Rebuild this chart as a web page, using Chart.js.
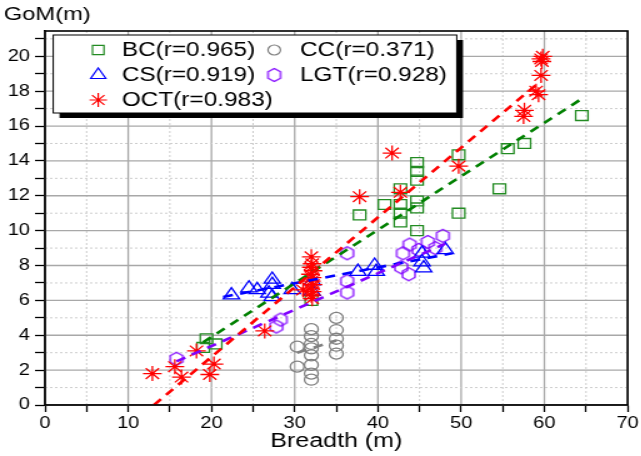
<!DOCTYPE html>
<html>
<head>
<meta charset="utf-8">
<script src="https://cdn.jsdelivr.net/npm/chart.js@4/dist/chart.umd.min.js"></script>
<style>
  html, body { margin: 0; padding: 0; background: #fff; overflow: hidden; }
  /* the reference is stretched sideways, so draw narrow and widen with css */
  #wrap { width: 513px; height: 456px; transform: scaleX(1.25); transform-origin: 0 0; }
</style>
</head>
<body>
<div id="wrap"><canvas id="c"></canvas></div>
<script>
// BC
const bcX = [19.0, 19.4, 20.5, 32.0, 37.8, 40.8, 42.7, 42.7, 42.7, 42.7, 44.7, 44.7, 44.7, 44.7, 44.7, 44.7, 49.7, 49.7, 54.6, 55.6, 57.6, 64.5];
const bcY = [3.3, 3.8, 3.5, 6.0, 10.9, 11.5, 12.4, 11.5, 11.0, 10.5, 13.9, 13.4, 12.9, 11.7, 11.3, 10.0, 14.35, 11.0, 12.4, 14.7, 15.0, 16.6];
// CC
const ccX = [30.3, 30.3, 32.0, 32.0, 32.0, 32.0, 32.0, 32.0, 32.0, 32.0, 35.0, 35.0, 35.0, 35.0, 35.0];
const ccY = [3.35, 2.2, 4.35, 3.95, 3.5, 3.25, 2.85, 2.3, 1.8, 1.45, 5.0, 4.3, 3.8, 3.4, 2.95];
// CS
const csX = [22.4, 24.5, 25.5, 26.9, 27.3, 27.3, 27.3, 29.7, 32.1, 32.1, 37.6, 39.6, 39.8, 45.3, 45.3, 45.5, 48.1];
const csY = [6.3, 6.7, 6.6, 6.4, 7.2, 6.9, 6.2, 6.6, 7.1, 6.5, 7.65, 8.0, 7.65, 8.7, 8.2, 7.85, 8.9];
// LGT
const lgtX = [15.8, 27.8, 28.3, 36.3, 36.3, 36.3, 42.8, 43.0, 43.8, 43.7, 44.9, 46.0, 46.9, 47.8];
const lgtY = [2.65, 4.5, 4.9, 8.7, 7.1, 6.45, 7.9, 8.7, 9.2, 7.5, 8.9, 9.35, 9.0, 9.7];
// OCT
const octX = [12.9, 15.6, 16.4, 18.2, 19.8, 20.3, 26.4, 31.0, 32.0, 32.1, 32.0, 32.2, 31.9, 32.1, 32.0, 32.2, 31.9, 32.1, 32.0, 32.1, 37.8, 41.7, 42.7, 49.7, 57.5, 57.6, 59.0, 59.3, 59.6, 59.7, 59.8, 59.6];
const octY = [1.8, 2.2, 1.6, 3.1, 1.75, 2.35, 4.25, 6.6, 8.5, 8.1, 7.9, 7.7, 7.5, 7.3, 7.1, 6.9, 6.7, 6.5, 6.3, 6.1, 11.95, 14.45, 12.2, 13.7, 16.55, 16.9, 18.0, 17.8, 18.9, 19.7, 20.0, 19.85];

// fitted lines, end points
const bcFitX = [19.0, 64.6], bcFitY = [3.6, 17.6];
const ccFitX = [30.3, 35.0], ccFitY = [3.0, 3.7];
const csFitX = [21.4, 48.9], csFitY = [6.2, 8.7];
const lgtFitX = [15.8, 48.1], lgtFitY = [2.5, 9.25];
const octFitX = [13.1, 59.6], octFitY = [0, 18.6];

const labels = ['BC(r=0.965)', 'CC(r=0.371)', 'CS(r=0.919)', 'LGT(r=0.928)', 'OCT(r=0.983)'];

const FONT = '"Liberation Sans", Arial, sans-serif';
const pts = (xs, ys) => xs.map((x, i) => ({ x, y: ys[i] }));

// hexagon marker (pointy top)
function hexMarker(color) {
    const c = document.createElement('canvas');
    c.width = 14; c.height = 16;
    const g = c.getContext('2d');
    g.strokeStyle = color;
    g.lineWidth = 1.3;
    g.beginPath();
    for (let i = 0; i < 6; i++) {
        const a = -Math.PI / 2 + i * Math.PI / 3;
        const px = 7 + 5 * Math.cos(a) / Math.cos(Math.PI / 6);
        const py = 8 + 6.5 * Math.sin(a);
        i ? g.lineTo(px, py) : g.moveTo(px, py);
    }
    g.closePath();
    g.stroke();
    return c;
}
const hex = hexMarker('#8000ff');

function scatterSet(label, xs, ys, color, style, r) {
    return {
        type: 'scatter', label, data: pts(xs, ys),
        pointStyle: style, pointRadius: r, pointBorderWidth: 1.3,
        borderColor: color, backgroundColor: 'rgba(0,0,0,0)',
        pointBorderColor: color, pointBackgroundColor: 'rgba(0,0,0,0)'
    };
}
function fitSet(xs, ys, color) {
    return {
        type: 'line', data: pts(xs, ys), borderColor: color, borderWidth: 2.6,
        borderDash: [8, 6], pointRadius: 0, fill: false, showLine: true
    };
}

const datasets = [
    fitSet(octFitX, octFitY, '#ff0000'),
    fitSet(bcFitX, bcFitY, '#008000'),
    fitSet(lgtFitX, lgtFitY, '#8000ff'),
    fitSet(csFitX, csFitY, '#0000ff'),
    fitSet(ccFitX, ccFitY, '#808080'),
    scatterSet(labels[4], octX, octY, '#ff0000', 'star', 7.5),
    scatterSet(labels[0], bcX, bcY, '#228b22', 'rect', 7),
    scatterSet(labels[2], csX, csY, '#0000ff', 'triangle', 7.5),
    scatterSet(labels[3], lgtX, lgtY, '#8000ff', hex, 6),
    scatterSet(labels[1], ccX, ccY, '#808080', 'circle', 5.5)
];

const decor = {
    id: 'decor',
    beforeDatasetsDraw(chart) {
        const { ctx, chartArea: a, scales: { x, y } } = chart;
        ctx.save();
        x.ticks.forEach(t => {
            const px = x.getPixelForValue(t.value);
            const major = t.value % 10 === 0;
            ctx.beginPath();
            ctx.strokeStyle = major ? '#a8a8a8' : '#cccccc';
            ctx.lineWidth = major ? 1.3 : 1;
            ctx.setLineDash(major ? [] : [2, 2]);
            ctx.moveTo(px, a.top); ctx.lineTo(px, a.bottom);
            ctx.stroke();
        });
        y.ticks.forEach(t => {
            const py = y.getPixelForValue(t.value);
            const major = t.value % 2 === 0;
            ctx.beginPath();
            ctx.strokeStyle = major ? '#a8a8a8' : '#cccccc';
            ctx.lineWidth = major ? 1.3 : 1;
            ctx.setLineDash(major ? [] : [2, 2]);
            ctx.moveTo(a.left, py); ctx.lineTo(a.right, py);
            ctx.stroke();
        });
        ctx.restore();
    },
    afterDatasetsDraw(chart) {
        const { ctx, chartArea: a } = chart;
        ctx.save();
        ctx.strokeStyle = '#000';
        ctx.lineWidth = 1.6;
        ctx.strokeRect(a.left, a.top, a.right - a.left, a.bottom - a.top);
        ctx.restore();
    },
    afterDraw(chart) {
        const ctx = chart.ctx;
        ctx.save();
        // y title on top of the axis
        ctx.font = '19px ' + FONT;
        ctx.fillStyle = '#000';
        ctx.textBaseline = 'middle';
        ctx.textAlign = 'left';
        ctx.fillText('GoM(m)', 3, 15);

        // legend box with shadow
        const bx = 42.6, by = 35, bw = 322.8, bh = 78;
        ctx.fillStyle = '#000';
        ctx.fillRect(bx + 5, by + 5, bw, bh);
        ctx.fillStyle = '#fff';
        ctx.fillRect(bx, by, bw, bh);
        ctx.strokeStyle = '#000';
        ctx.lineWidth = 1;
        ctx.strokeRect(bx, by, bw, bh);

        const cols = [[78.6, 97.4], [219.4, 240]];
        const rows = [50, 75, 100];
        const order = [labels[0], labels[2], labels[4], labels[1], labels[3]];
        order.forEach((lab, i) => {
            const ds = chart.data.datasets.find(d => d.label === lab);
            const col = cols[Math.floor(i / 3)];
            const row = rows[i % 3];
            ctx.strokeStyle = ds.pointBorderColor;
            ctx.fillStyle = 'rgba(0,0,0,0)';
            ctx.lineWidth = 1.2;
            ctx.setLineDash([]);
            Chart.helpers.drawPoint(ctx, {
                pointStyle: ds.pointStyle, radius: ds.pointRadius - 0.5,
                rotation: 0, borderWidth: 1.2
            }, col[0], row);
            ctx.fillStyle = '#000';
            ctx.font = '19.5px ' + FONT;
            ctx.textBaseline = 'middle';
            ctx.fillText(lab, col[1], row + 1);
        });
        ctx.restore();
    }
};

new Chart(document.getElementById('c'), {
    data: { datasets },
    plugins: [decor],
    options: {
        responsive: true,
        maintainAspectRatio: false,
        animation: false,
        layout: { padding: { top: 31, right: 5, left: 0, bottom: 0 } },
        plugins: { legend: { display: false }, tooltip: { enabled: false } },
        scales: {
            x: {
                type: 'linear', min: 0, max: 70,
                afterFit: s => { s.height = 51; },
                ticks: {
                    stepSize: 5, autoSkip: false, maxRotation: 0, padding: 2,
                    color: '#000', font: { family: FONT, size: 16 },
                    callback: v => (v % 10 === 0 ? v : '')
                },
                grid: { drawOnChartArea: false, drawTicks: true, tickLength: 7, tickColor: '#000', tickWidth: 1.3 },
                border: { color: '#000', width: 1.6 },
                title: { display: true, text: 'Breadth (m)', color: '#000', font: { family: FONT, size: 20 }, padding: { top: 0, bottom: 3 } }
            },
            y: {
                type: 'linear', min: 0, max: 21.45,
                afterFit: s => { s.width = 36; },
                afterBuildTicks: s => { s.ticks = Array.from({ length: 22 }, (_, i) => ({ value: i })); },
                ticks: {
                    autoSkip: false, padding: 4,
                    color: '#000', font: { family: FONT, size: 16 },
                    callback: v => (v % 2 === 0 ? v : '')
                },
                grid: { drawOnChartArea: false, drawTicks: true, tickLength: 8, tickColor: '#000', tickWidth: 1.3 },
                border: { color: '#000', width: 1.6 }
            }
        }
    }
});
</script>
</body>
</html>
